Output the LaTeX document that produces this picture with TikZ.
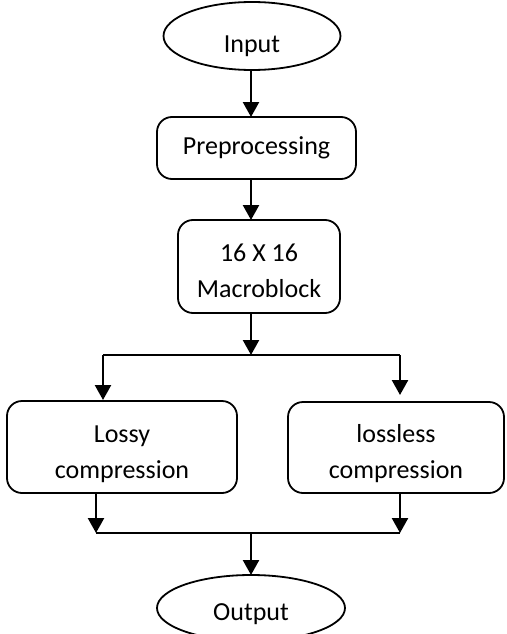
\documentclass[tikz,border=0pt]{standalone}
\usepackage{fontspec}
\setmainfont{Carlito}
\usetikzlibrary{shapes.geometric,arrows.meta}
\begin{document}
\begin{tikzpicture}[x=1pt,y=-1pt,
  line width=2.4pt,
  every node/.style={font=\fontsize{26}{36}\selectfont, inner sep=0pt, align=center},
  ell/.style={draw, ellipse, line width=1.8pt},
  rbox/.style={draw, rounded corners=15pt, line width=1.8pt},
  arr/.style={-{Triangle[width=16pt,length=15pt]}}]
\useasboundingbox (0,0) rectangle (506,634);
\node[ell, minimum width=177pt, minimum height=68pt, text height=33pt, text depth=0pt] (in) at (252,36) {Input};
\node[rbox, minimum width=199pt, minimum height=62pt] (pre) at (256.5,148) {Preprocessing};
\node[rbox, minimum width=162pt, minimum height=93pt, text height=63pt] (mb) at (259,266.5) {16 X 16\\Macroblock};
\node[rbox, minimum width=230pt, minimum height=92pt, text height=67pt] (lossy) at (122,447) {Lossy\\compression};
\node[rbox, minimum width=216pt, minimum height=91pt, text height=67pt] (lossless) at (396,447.5) {lossless\\compression};
\node[ell, minimum width=188pt, minimum height=66pt, text height=24pt, text depth=0pt] (out) at (251,608) {Output};
\coordinate (a1) at (251,70);
\coordinate (a2) at (251,117);
\coordinate (b1) at (251,179);
\coordinate (b2) at (251,220);
\coordinate (c1) at (251,313);
\coordinate (j1) at (251,355);
\coordinate (bl) at (103,355);
\coordinate (br) at (400,355);
\coordinate (blt) at (103,400);
\coordinate (brt) at (400,395);
\coordinate (d1) at (96,493);
\coordinate (d2) at (96,533);
\coordinate (e1) at (400,493);
\coordinate (e2) at (400,533);
\coordinate (j2) at (251,533);
\coordinate (o1) at (251,575);
\draw[arr] (a1) -- (a2);
\draw[arr] (b1) -- (b2);
\draw[arr] (c1) -- (j1);
\draw (bl) -- (br);
\draw[arr] (bl) -- (blt);
\draw[arr] (br) -- (brt);
\draw[arr] (d1) -- (d2);
\draw[arr] (e1) -- (e2);
\draw (d2) -- (e2);
\draw[arr] (j2) -- (o1);
\end{tikzpicture}
\end{document}
